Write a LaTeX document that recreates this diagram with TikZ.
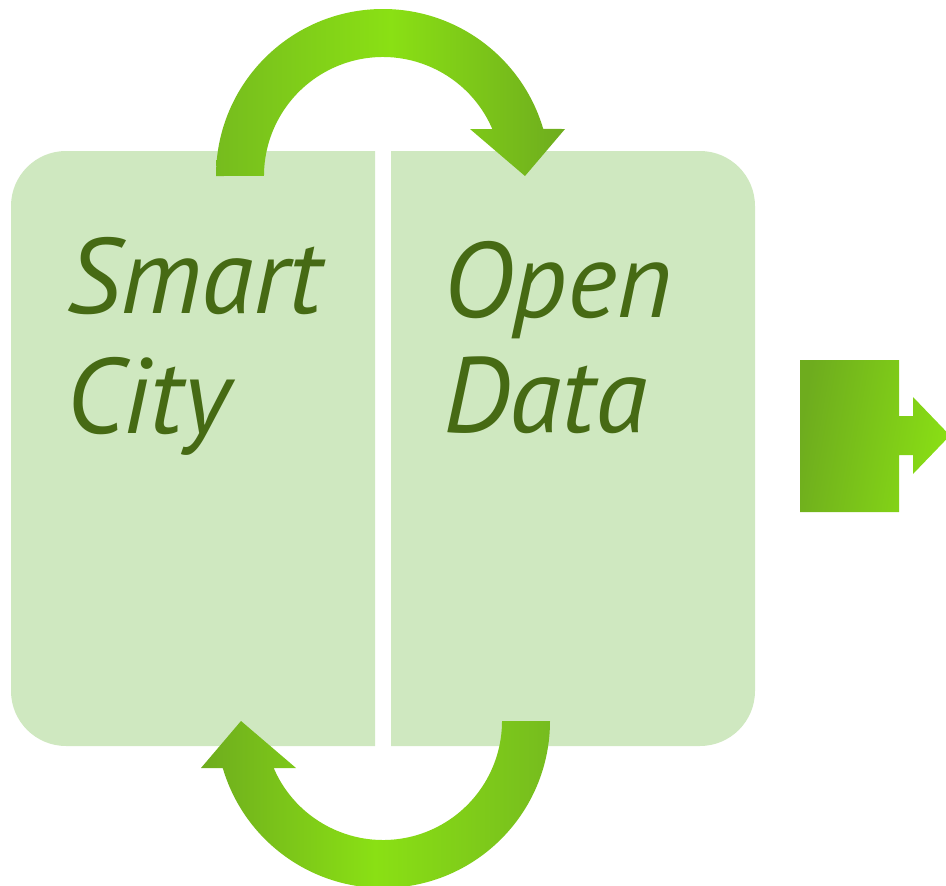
\documentclass[tikz,border=0pt]{standalone}
\usepackage{fontspec}
\setmainfont{PT Sans}
\definecolor{boxfill}{RGB}{207,232,192}
\definecolor{txtgreen}{RGB}{70,106,20}
\definecolor{arrA}{RGB}{118,188,30}
\definecolor{arrB}{RGB}{138,224,20}
\definecolor{arrC}{RGB}{110,172,30}
\tikzset{
  panel/.style={fill=boxfill},
  label/.style={text=txtgreen, anchor=base west, inner sep=0pt, font=\fontsize{107}{110}\selectfont\itshape},
}
\begin{document}
\begin{tikzpicture}[x=1pt,y=-1pt]
\useasboundingbox (0,0) rectangle (946,886);
\clip (0,0) rectangle (946,886);
% panels
\fill[panel] (375,151) -- (66,151) arc[start angle=270,end angle=180,radius=55]
  -- (11,691) arc[start angle=180,end angle=90,radius=55] -- (375,746) -- cycle;
\fill[panel] (391,151) -- (700,151) arc[start angle=270,end angle=360,radius=55]
  -- (755,691) arc[start angle=0,end angle=90,radius=55] -- (391,746) -- cycle;
% top arrow
\shade[left color=arrA, right color=arrC, middle color=arrB]
  (216,176) arc[start angle=180,end angle=343.65,radius=167]
  -- (565,129) -- (525,176) -- (470,129) -- (492.3,129)
  arc[start angle=336.74,end angle=180,radius=119] -- cycle;
% bottom arrow (rotated copy)
\shade[left color=arrC, right color=arrA, middle color=arrB]
  (550,721) arc[start angle=0,end angle=163.65,radius=167]
  -- (201,768) -- (241,721) -- (296,768) -- (273.7,768)
  arc[start angle=156.74,end angle=0,radius=119] -- cycle;
% right arrow
\shade[left color=arrC, right color=arrB, shading angle=80]
  (800,360) -- (899,360) -- (899,416) -- (913,416) -- (913,397) -- (950,435.5)
  -- (913,474) -- (913,455) -- (899,455) -- (899,512) -- (800,512) -- cycle;
% texts
\node[label] (smart) at (66,313) {Smart};
\node[label] (city) at (66,433) {City};
\node[label] (open) at (443,317) {Open};
\node[label] (data) at (443,432) {Data};
\end{tikzpicture}
\end{document}
